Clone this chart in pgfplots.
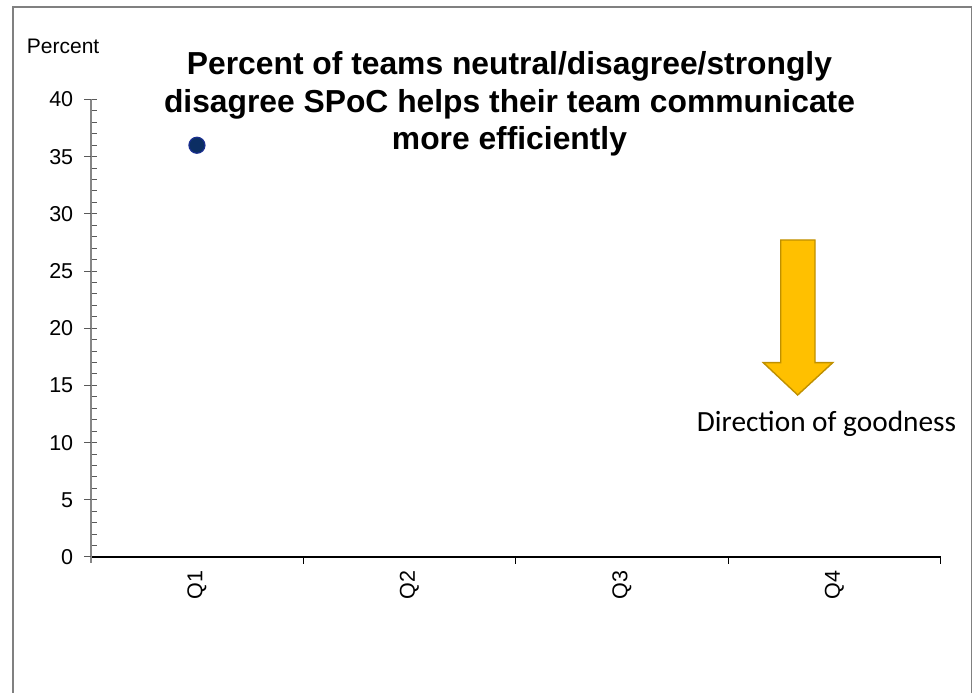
\documentclass[border=0pt]{standalone}
\usepackage{fontspec}
\setmainfont{Liberation Sans}
\newfontfamily\calibri{Carlito}
\usepackage{pgfplots}
\pgfplotsset{compat=1.18}
\definecolor{markfill}{HTML}{0B2E63}
\definecolor{markdraw}{HTML}{1A2F8F}
\definecolor{yaxisgray}{HTML}{868686}
\definecolor{tickgray}{HTML}{595959}
\definecolor{framegray}{HTML}{808080}
\definecolor{arrowfill}{HTML}{FFC000}
\definecolor{arrowdraw}{HTML}{BF9000}

\begin{document}
\begin{tikzpicture}
  % picture is laid out in reference pixels (1px = 1pt), y measured up from the bottom
  \useasboundingbox (0pt,0pt) rectangle (977pt,693pt);

  \begin{axis}[
      at={(90.7pt,136pt)}, anchor=south west,
      scale only axis, width=850pt, height=457.5pt,
      xmin=0.5, xmax=4.5, ymin=0, ymax=40,
      axis lines*=left,
      x axis line style={black, line width=1.1pt},
      y axis line style={yaxisgray, line width=2.2pt},
      xtick={1,2,3,4}, xticklabels={Q1,Q2,Q3,Q4},
      x tick style={draw=none},
      ytick={0,5,...,40},
      minor y tick num=4,
      ytick align=inside,
      major tick length=6pt, minor tick length=6pt,
      y tick style={tickgray, line width=1pt},
      /pgf/number format/assume math mode=true,
      tick label style={font=\fontsize{21.5}{25}\selectfont},
      xticklabel style={yshift=-10pt, rotate=90, anchor=east},
      yticklabel style={xshift=-14pt},
      clip=false,
    ]
    \addplot[only marks, mark=*, mark size=8pt,
      mark options={fill=markfill, draw=markdraw, line width=1.2pt}]
      coordinates {(1,36)};
    % outward half of the crossing major y ticks
    \pgfplotsinvokeforeach{0,5,...,40}{
      \draw[tickgray, line width=1pt] (axis cs:0.5,#1) -- ([xshift=-7pt]axis cs:0.5,#1);
    }
    \draw[yaxisgray, line width=2.2pt] (axis cs:0.5,0) -- ([yshift=-6pt]axis cs:0.5,0);
    % category boundary ticks below the x axis
    \pgfplotsinvokeforeach{1.5,2.5,3.5,4.5}{
      \draw[black, line width=1pt] (axis cs:#1,0) -- ([yshift=-7pt]axis cs:#1,0);
    }
  \end{axis}

  \begin{scope}[x=1pt, y=1pt]
    \draw[framegray, line width=1.4pt] (13,-5) -- (13,686) -- (971.7,686) -- (971.7,-5);

    \node[anchor=base west, inner sep=0, font=\fontsize{21}{25}\selectfont] at (26.7,693-53.3) {Percent};

    \begin{scope}[every node/.style={anchor=base, inner sep=0, font=\fontsize{31.8}{37.5}\selectfont\bfseries}]
      \node at (509.5,693-75) {Percent of teams neutral/disagree/strongly};
      \node at (509.5,693-112.5) {disagree SPoC helps their team communicate};
      \node at (509.5,693-150) {more efficiently};
    \end{scope}

    \draw[arrowdraw, fill=arrowfill, line width=1.4pt]
      (780.7,693-240) -- (815,693-240) -- (815,693-362.7) -- (832.7,693-362.7)
      -- (797.7,693-395) -- (763.3,693-362.7) -- (780.7,693-362.7) -- cycle;
    \node[anchor=base, inner sep=0, font=\calibri\fontsize{29.3}{34}\selectfont] at (826.5,693-431.7) {Direction of goodness};
  \end{scope}
\end{tikzpicture}
\end{document}
